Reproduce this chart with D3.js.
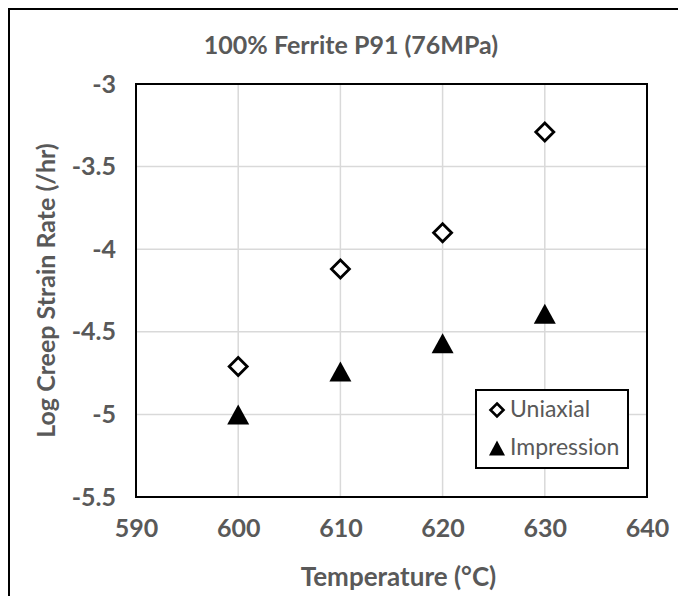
<!DOCTYPE html>
<html><head><meta charset="utf-8">
<script src="https://cdn.jsdelivr.net/npm/d3@7"></script>
<style>body{margin:0;background:#fff}svg{display:block}text{font-family:Lato,"Open Sans",sans-serif}</style>
</head><body><svg id="c" width="678" height="596"></svg>
<script>
const temperatures = [600, 610, 620, 630];
const uniaxial = [-4.71, -4.12, -3.90, -3.29];
const impression = [-5.00, -4.74, -4.57, -4.39];
const xTicks = [590, 600, 610, 620, 630, 640];
const yTicks = [-3, -3.5, -4, -4.5, -5, -5.5];
const seriesNames = ["Uniaxial", "Impression"];
const title = "100% Ferrite P91 (76MPa)";
const xTitle = "Temperature (°C)";
const yTitle = "Log Creep Strain Rate (/hr)";

const svg = d3.select("#c");
const L = 136, R = 647, T = 84, B = 497;
const x = d3.scaleLinear().domain([590, 640]).range([L, R]);
const y = d3.scaleLinear().domain([-5.5, -3]).range([B, T]);
const gray = "#595959";

// outer chart border
svg.append("rect").attr("x", 9).attr("y", 9).attr("width", 720).attr("height", 640)
  .attr("fill", "none").attr("stroke", "#000").attr("stroke-width", 2);

// gridlines
svg.append("g").selectAll("line.v").data(xTicks.slice(1, -1)).join("line")
  .attr("x1", d => x(d)).attr("x2", d => x(d)).attr("y1", T).attr("y2", B)
  .attr("stroke", "#d9d9d9").attr("stroke-width", 1.5);
svg.append("g").selectAll("line.h").data(yTicks.slice(1, -1)).join("line")
  .attr("x1", L).attr("x2", R).attr("y1", d => y(d)).attr("y2", d => y(d))
  .attr("stroke", "#d9d9d9").attr("stroke-width", 1.5);

// axes (labels only)
const xAxis = svg.append("g").attr("transform", `translate(0,${B})`)
  .call(d3.axisBottom(x).tickValues(xTicks).tickSize(0).tickPadding(22).tickFormat(d3.format("d")));
xAxis.select(".domain").remove();
xAxis.selectAll("text").attr("fill", gray).attr("font-size", 25).attr("font-weight", "bold")
  .style("font-family", "Lato, sans-serif");
const yAxis = svg.append("g").attr("transform", `translate(${L},0)`)
  .call(d3.axisLeft(y).tickValues(yTicks).tickSize(0).tickPadding(20).tickFormat(d => String(d)));
yAxis.select(".domain").remove();
yAxis.selectAll("text").attr("fill", gray).attr("font-size", 25).attr("font-weight", "bold")
  .style("font-family", "Lato, sans-serif");

// plot border
svg.append("rect").attr("x", L).attr("y", T).attr("width", R - L).attr("height", B - T)
  .attr("fill", "none").attr("stroke", "#000").attr("stroke-width", 2);

// markers
const diamond = s => `M0,${-s}L${s},0L0,${s}L${-s},0Z`;
const tri = (w, h) => `M0,${-h/2}L${w/2},${h/2}L${-w/2},${h/2}Z`;
svg.append("g").selectAll("path").data(temperatures.map((t, i) => [t, uniaxial[i]])).join("path")
  .attr("transform", d => `translate(${x(d[0])},${y(d[1])})`)
  .attr("d", diamond(9)).attr("fill", "#fff").attr("stroke", "#000").attr("stroke-width", 2.8);
svg.append("g").selectAll("path").data(temperatures.map((t, i) => [t, impression[i]])).join("path")
  .attr("transform", d => `translate(${x(d[0])},${y(d[1])})`)
  .attr("d", tri(22, 20)).attr("fill", "#000");

// titles
svg.append("text").attr("x", 351).attr("y", 54).attr("text-anchor", "middle")
  .attr("fill", gray).attr("font-size", 25).attr("font-weight", "bold").text(title);
svg.append("text").attr("x", (L + R) / 2 + 7).attr("y", 586).attr("text-anchor", "middle")
  .attr("fill", gray).attr("font-size", 26).attr("font-weight", "bold").text(xTitle);
svg.append("text").attr("transform", `translate(55,${(T + B) / 2}) rotate(-90)`).attr("text-anchor", "middle")
  .attr("fill", gray).attr("font-size", 25).attr("font-weight", "bold").text(yTitle);

// legend
const lg = svg.append("g");
lg.append("rect").attr("x", 476).attr("y", 390).attr("width", 152).attr("height", 78)
  .attr("fill", "#fff").attr("stroke", "#000").attr("stroke-width", 2);
lg.append("path").attr("transform", "translate(497,410)").attr("d", diamond(6.5))
  .attr("fill", "#fff").attr("stroke", "#000").attr("stroke-width", 2.6);
lg.append("path").attr("transform", "translate(497,448)").attr("d", tri(16, 15)).attr("fill", "#000");
lg.selectAll("text").data(seriesNames).join("text")
  .attr("x", 510).attr("y", (d, i) => 417 + i * 38)
  .attr("fill", gray).attr("font-size", 23).text(d => d);
</script></body></html>
